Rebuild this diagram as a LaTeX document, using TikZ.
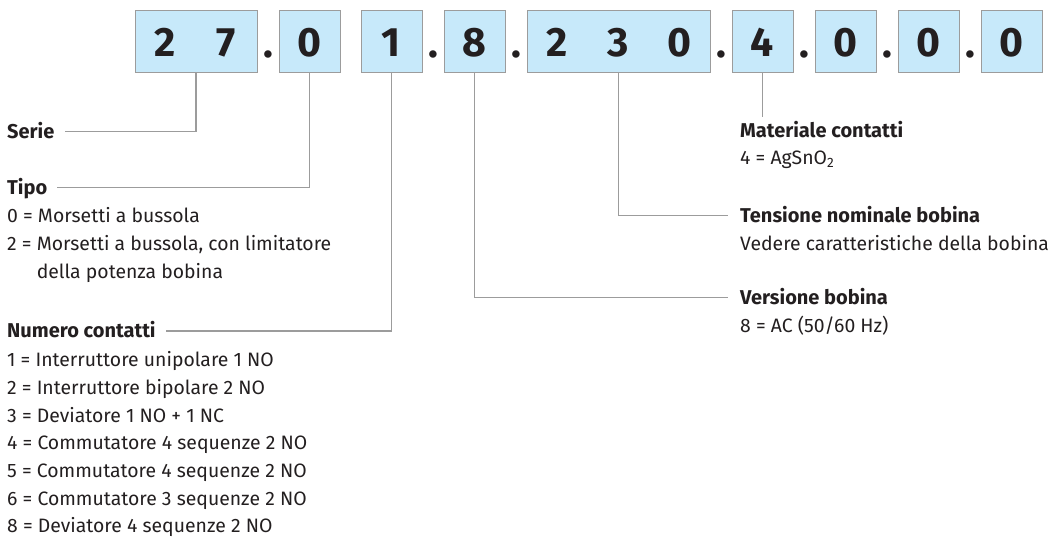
\documentclass[tikz,border=0pt]{standalone}
\usepackage{fontspec}
\setmainfont{Fira Sans}

\definecolor{codeblue}{HTML}{C7E9FA}
\definecolor{leadgray}{HTML}{9C9C9C}
\definecolor{inkblack}{HTML}{231F20}

\tikzset{
        codebox/.style={draw=leadgray, line width=1pt, fill=codeblue, minimum height=61pt, minimum width=61pt, inner sep=0pt},
        digit/.style={font=\bfseries\fontsize{41}{41}\selectfont, text=inkblack, inner sep=0pt},
        dot/.style={digit, anchor=base},
        lead/.style={draw=leadgray, line width=1.1pt},
        head/.style={anchor=base west, font=\bfseries\fontsize{20}{22}\selectfont, text=inkblack, inner sep=0pt, text height=13pt, text depth=0pt},
        entry/.style={anchor=base west, font=\fontsize{19.4}{21}\selectfont, text=inkblack, inner sep=0pt}
}

\begin{document}
\begin{tikzpicture}[x=1pt, y=-1pt]
        \useasboundingbox (0,0) rectangle (1048,543);

        \node[codebox, minimum width=122pt] at (196,41.5) (b1) {};
        \node[codebox] at (309.5,41.5) (b2) {};
        \node[codebox] at (391.5,41.5) (b3) {};
        \node[codebox] at (474.5,41.5) (b4) {};
        \node[codebox, minimum width=183pt] at (618.5,41.5) (b5) {};
        \node[codebox] at (762.5,41.5) (b6) {};
        \node[codebox] at (845.5,41.5) (b7) {};
        \node[codebox] at (928.5,41.5) (b8) {};
        \node[codebox] at (1011.5,41.5) (b9) {};

        \node[digit] at (165.5,42.5) (d1a) {2};
        \node[digit] at (226.5,42.5) (d1b) {7};
        \node[digit] at (309.5,42.5) (d2) {0};
        \node[digit] at (391.5,42.5) (d3) {1};
        \node[digit] at (474.5,42.5) (d4) {8};
        \node[digit] at (557.5,42.5) (d5a) {2};
        \node[digit] at (618.5,42.5) (d5b) {3};
        \node[digit] at (679.5,42.5) (d5c) {0};
        \node[digit] at (762.5,42.5) (d6) {4};
        \node[digit] at (845.5,42.5) (d7) {0};
        \node[digit] at (928.5,42.5) (d8) {0};
        \node[digit] at (1011.5,42.5) (d9) {0};

        \node[dot] at (268,57) (p1) {.};
        \node[dot] at (433,57) (p2) {.};
        \node[dot] at (516,57) (p3) {.};
        \node[dot] at (721,57) (p4) {.};
        \node[dot] at (804,57) (p5) {.};
        \node[dot] at (887,57) (p6) {.};
        \node[dot] at (970,57) (p7) {.};

        \node[head] at (7,138) (serie) {Serie};

        \node[head] at (7,194) (tipo) {Tipo};
        \node[entry] at (7,222) (tipo0) {0 = Morsetti a bussola};
        \node[entry] at (7,250) (tipo2) {2 = Morsetti a bussola, con limitatore};
        \node[entry] at (7,278) (tipo2b) {\phantom{2 = }della potenza bobina};

        \node[head] at (7,337.5) (numero) {Numero contatti};
        \node[entry] at (7,366.5) (num1) {1 = Interruttore unipolare 1 NO};
        \node[entry] at (7,394) (num2) {2 = Interruttore bipolare 2 NO};
        \node[entry] at (7,422) (num3) {3 = Deviatore 1 NO + 1 NC};
        \node[entry] at (7,449.5) (num4) {4 = Commutatore 4 sequenze 2 NO};
        \node[entry] at (7,477) (num5) {5 = Commutatore 4 sequenze 2 NO};
        \node[entry] at (7,505) (num6) {6 = Commutatore 3 sequenze 2 NO};
        \node[entry] at (7,532.5) (num8) {8 = Deviatore 4 sequenze 2 NO};

        \node[head] at (740,137) (materiale) {Materiale contatti};
        \node[entry] at (740,164.5) (mat4) {4 = AgSnO\textsubscript{2}};

        \node[head] at (740,222) (tensione) {Tensione nominale bobina};
        \node[entry] at (740,250) (tens) {Vedere caratteristiche della bobina};

        \node[head] at (740,304) (versione) {Versione bobina};
        \node[entry] at (740,332) (vers8) {8 = AC (50/60 Hz)};

        \draw[lead, shorten >=10pt] (b1.south) |- (serie.east);
        \draw[lead, shorten >=10pt] (b2.south) |- (tipo.east);
        \draw[lead, shorten >=10pt] (b3.south) |- (numero.east);
        \draw[lead, shorten >=12pt] (b4.south) |- (versione.west);
        \draw[lead, shorten >=12pt] (b5.south) |- (tensione.west);
        \draw[lead, shorten >=7pt] (b6.south) -- (b6.south |- materiale.north);
\end{tikzpicture}
\end{document}
